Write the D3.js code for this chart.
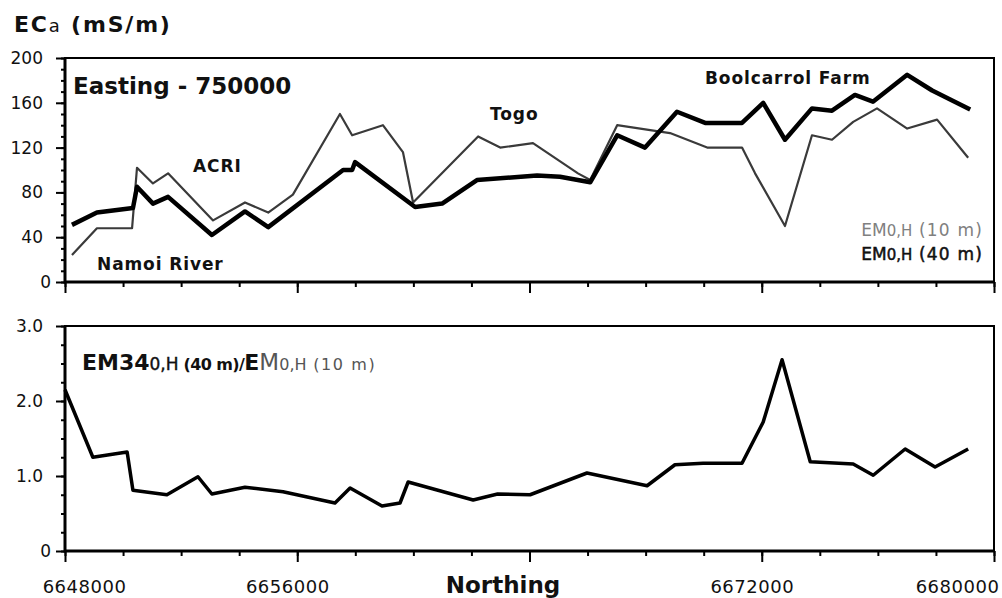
<!DOCTYPE html>
<html>
<head>
<meta charset="utf-8">
<script src="https://cdn.jsdelivr.net/npm/d3@7"></script>
<style>
  body { margin: 0; background: #fff; }
  svg { display: block; font-family: "DejaVu Sans", sans-serif; }
</style>
</head>
<body>
<svg id="chart" width="1002" height="598"></svg>
<script>
// EM (10 m) apparent conductivity, mS/m
var tenNorthing = [6648240, 6649100, 6650310, 6650480, 6651030, 6651550, 6653100, 6654200, 6655000, 6655850,
    6657470, 6657890, 6658950, 6659640, 6659990, 6662230, 6662990, 6664120, 6665670, 6666090,
    6667020, 6668840, 6670120, 6671320, 6671770, 6672800, 6673730, 6674420, 6675150, 6675970,
    6677010, 6678040, 6679110];
var tenValues = [24, 48, 48, 102, 88, 97, 55, 71, 62, 78,
    150, 131, 140, 116, 71, 130, 120, 124, 97, 91,
    140, 133, 120, 120, 97, 50, 131, 127, 143, 155,
    137, 145, 111];

// EM (40 m) apparent conductivity, mS/m
var fortyNorthing = [6648240, 6649100, 6650340, 6650480, 6651030, 6651550, 6653060, 6654200, 6655000, 6657580,
    6657890, 6657990, 6660060, 6660990, 6662190, 6664260, 6665050, 6666090, 6667020, 6667980,
    6669080, 6670050, 6671320, 6672050, 6672800, 6673730, 6674420, 6675210, 6675830, 6677010,
    6677870, 6679180];
var fortyValues = [51, 62, 66, 85, 70, 76, 42, 63, 49, 100,
    100, 107, 67, 70, 91, 95, 94, 89, 131, 120,
    152, 142, 142, 160, 127, 155, 153, 167, 161, 185,
    171, 154];

// ratio 40 m / 10 m
var ratioNorthing = [6648000, 6648960, 6650140, 6650340, 6651510, 6652580, 6653060, 6654200, 6655510, 6657300,
    6657820, 6658920, 6659540, 6659820, 6662060, 6662900, 6664020, 6665980, 6668050, 6669010,
    6669980, 6671320, 6672050, 6672700, 6673670, 6675150, 6675840, 6676940, 6677970, 6679110];
var ratioValues = [2.15, 1.25, 1.32, 0.81, 0.75, 0.99, 0.76, 0.85, 0.79, 0.64,
    0.84, 0.60, 0.64, 0.92, 0.68, 0.76, 0.75, 1.04, 0.87, 1.15,
    1.17, 1.17, 1.72, 2.55, 1.19, 1.16, 1.01, 1.36, 1.12, 1.36];

var xLabelTicks = [6648000, 6656000, 6672000, 6680000];
var topTicks = [0, 40, 80, 120, 160, 200];
var bottomTicks = [0, 1, 2, 3];

var svg = d3.select("#chart");

var x = d3.scaleLinear().domain([6648000, 6680000]).range([65, 994]);
var yTop = d3.scaleLinear().domain([0, 200]).range([282, 58]);
var yBot = d3.scaleLinear().domain([0, 3]).range([551, 326]);

function frame(y) {
    svg.append("rect")
        .attr("x", x.range()[0])
        .attr("y", y.range()[1])
        .attr("width", x.range()[1] - x.range()[0])
        .attr("height", y.range()[0] - y.range()[1])
        .attr("fill", "none")
        .attr("stroke", "#000")
        .attr("stroke-width", 2);
    // heavier axis lines
    svg.append("path")
        .attr("d", "M" + x.range()[0] + "," + y.range()[1] + "V" + y.range()[0] + "H" + x.range()[1])
        .attr("fill", "none")
        .attr("stroke", "#000")
        .attr("stroke-width", 3);
}

function xTicks(y0, withLabels) {
    var minor = svg.append("g")
        .attr("transform", "translate(0," + y0 + ")")
        .call(d3.axisBottom(x).tickValues(d3.range(6648000, 6680001, 2000)).tickSize(5).tickFormat(""));
    var major = svg.append("g")
        .attr("transform", "translate(0," + y0 + ")")
        .call(d3.axisBottom(x).tickValues(d3.range(6648000, 6680001, 8000)).tickSize(11).tickPadding(18)
            .tickFormat(d => withLabels && xLabelTicks.includes(d) ? d : ""));
    [minor, major].forEach(g => {
        g.select(".domain").remove();
        g.selectAll("line").attr("stroke-width", 2);
    });
    major.selectAll("text")
        .attr("font-size", 18)
        .attr("font-family", "DejaVu Sans")
        .attr("letter-spacing", 0.5)
        .attr("fill", "#111")
        .attr("dx", d => d == 6648000 ? 19 : d == 6680000 ? -37 : -10);
}

function yTicks(y, step, majors, fmt) {
    var minor = svg.append("g")
        .attr("transform", "translate(" + x.range()[0] + ",0)")
        .call(d3.axisLeft(y).tickValues(d3.range(y.domain()[0], y.domain()[1] + step / 2, step)).tickSize(4).tickFormat(""));
    var major = svg.append("g")
        .attr("transform", "translate(" + x.range()[0] + ",0)")
        .call(d3.axisLeft(y).tickValues(majors).tickSize(9).tickPadding(13).tickFormat(fmt));
    [minor, major].forEach(g => {
        g.select(".domain").remove();
        g.selectAll("line").attr("stroke-width", 2);
    });
    major.selectAll("text")
        .attr("font-size", 17)
        .attr("font-family", "DejaVu Sans")
        .attr("fill", "#111")
        .attr("dx", d => d == 0 ? 8 : 0);
}

frame(yTop);
frame(yBot);
xTicks(yTop(0), false);
xTicks(yBot(0), true);
yTicks(yTop, 10, topTicks, d3.format("d"));
yTicks(yBot, 0.25, bottomTicks, d => d == 0 ? "0" : d3.format(".1f")(d));

var lineTop = d3.line().x(d => x(d[0])).y(d => yTop(d[1]));
var lineBot = d3.line().x(d => x(d[0])).y(d => yBot(d[1]));

svg.append("path")
    .datum(d3.zip(tenNorthing, tenValues))
    .attr("d", lineTop)
    .attr("fill", "none")
    .attr("stroke", "#3a3a3a")
    .attr("stroke-width", 2.2)
    .attr("stroke-linejoin", "round");

svg.append("path")
    .datum(d3.zip(fortyNorthing, fortyValues))
    .attr("d", lineTop)
    .attr("fill", "none")
    .attr("stroke", "#000")
    .attr("stroke-width", 4.5)
    .attr("stroke-linejoin", "round");

svg.append("path")
    .datum(d3.zip(ratioNorthing, ratioValues))
    .attr("d", lineBot)
    .attr("fill", "none")
    .attr("stroke", "#000")
    .attr("stroke-width", 3.5)
    .attr("stroke-linejoin", "round");

// titles and annotations
var t = svg.append("text").attr("x", 14).attr("y", 32).attr("font-weight", "bold").attr("font-size", 22)
    .attr("letter-spacing", 1.8).attr("fill", "#111");
t.append("tspan").text("EC");
t.append("tspan").attr("font-size", 18).attr("font-weight", "normal").text("a");
t.append("tspan").text(" (mS/m)");

svg.append("text").attr("x", 73).attr("y", 94).attr("font-weight", "bold").attr("font-size", 23).attr("fill", "#111")
    .text("Easting - 750000");

var notes = [
    {text: "ACRI", x: 193, y: 172},
    {text: "Namoi River", x: 97, y: 270},
    {text: "Togo", x: 490, y: 120},
    {text: "Boolcarrol Farm", x: 705, y: 84}
];
svg.selectAll("text.note")
    .data(notes)
    .enter()
    .append("text")
    .attr("class", "note")
    .attr("x", d => d.x)
    .attr("y", d => d.y)
    .attr("font-weight", "bold")
    .attr("font-size", 17)
    .attr("letter-spacing", 0.9)
    .attr("fill", "#111")
    .text(d => d.text);

function legend(y, depth, color, heavy) {
    var g = svg.append("text").attr("x", 983).attr("y", y).attr("text-anchor", "end")
        .attr("font-size", 17).attr("fill", color);
    if (heavy) g.attr("stroke", color).attr("stroke-width", 0.5);
    g.append("tspan").text("EM");
    g.append("tspan").attr("font-size", 15).text("0,H");
    g.append("tspan").attr("letter-spacing", 1.2).text(" (" + depth + ")");
}
legend(236, "10 m", "#808080", false);
legend(260, "40 m", "#111", true);

var r = svg.append("text").attr("x", 82).attr("y", 370).attr("fill", "#111");
r.append("tspan").attr("font-weight", "bold").attr("font-size", 22).text("EM34");
r.append("tspan").attr("font-size", 17).attr("stroke", "#111").attr("stroke-width", 0.4).text("0,H");
r.append("tspan").attr("font-weight", "bold").attr("font-size", 16).attr("letter-spacing", -0.6).text(" (40 m)/");
r.append("tspan").attr("font-weight", "bold").attr("font-size", 22).text("E");
r.append("tspan").attr("font-size", 23).attr("fill", "#555").text("M");
r.append("tspan").attr("font-size", 16).attr("fill", "#555").text("0,H");
r.append("tspan").attr("font-size", 16).attr("fill", "#555").attr("letter-spacing", 1.6).text(" (10 m)");

svg.append("text").attr("x", 503).attr("y", 593).attr("text-anchor", "middle")
    .attr("font-weight", "bold").attr("font-size", 23).attr("fill", "#111")
    .text("Northing");
</script>
</body>
</html>
